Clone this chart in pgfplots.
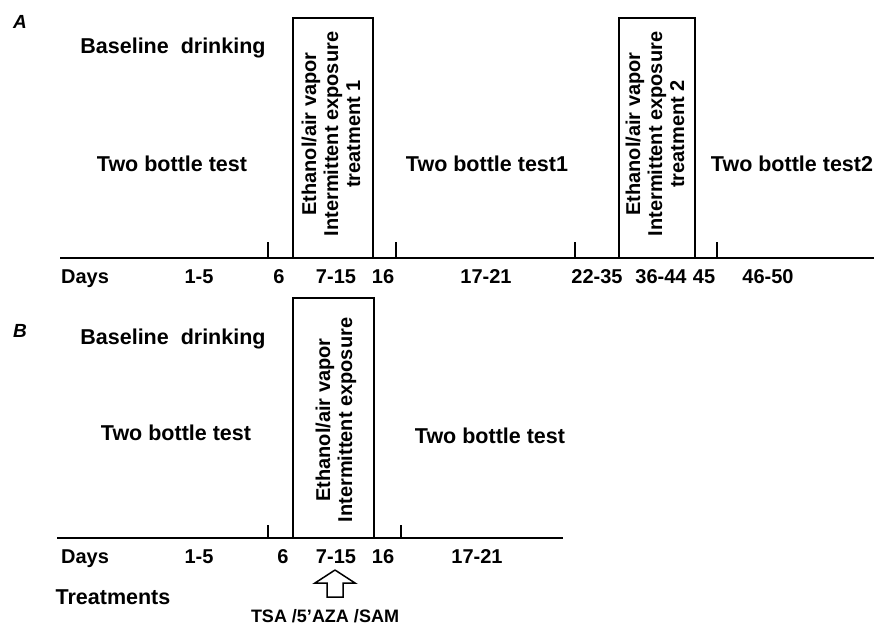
\documentclass[border=0pt]{standalone}
\usepackage{pgfplots}
\pgfplotsset{compat=1.18}
\usepackage{fontspec}
\setmainfont{Liberation Sans}
\newcommand{\fbig}{\fontsize{21.5}{23}\selectfont\bfseries}
\newcommand{\frot}{\fontsize{20}{22}\selectfont\bfseries}
\newcommand{\fmid}{\fontsize{20}{22}\selectfont\bfseries}
\begin{document}
\begin{tikzpicture}
\begin{axis}[
  width=874pt, height=625pt, scale only axis,
  xmin=0, xmax=874, ymin=0, ymax=625, y dir=reverse,
  axis lines=none, clip=false,
]
% ---- Panel A ----
\addplot[black, line width=2pt] coordinates {(60,258) (874,258)};
\addplot[black, line width=1.3pt] coordinates {(268,242) (268,258)};
\addplot[black, line width=1.3pt] coordinates {(396,242) (396,258)};
\addplot[black, line width=1.3pt] coordinates {(575,242) (575,258)};
\addplot[black, line width=1.3pt] coordinates {(717,242) (717,258)};
\addplot[black, line width=2pt] coordinates {(293,258) (293,18) (373,18) (373,258)};
\addplot[black, line width=2pt] coordinates {(619,258) (619,18) (695,18) (695,258)};
% ---- Panel B ----
\addplot[black, line width=2pt] coordinates {(57,538) (563,538)};
\addplot[black, line width=1.3pt] coordinates {(268,525) (268,538)};
\addplot[black, line width=1.3pt] coordinates {(401,525) (401,538)};
\addplot[black, line width=2pt] coordinates {(293,538) (293,298) (374,298) (374,538)};
\addplot[black, line width=1.5pt] coordinates {(335,570) (355,583) (343,583) (343,597) (327,597) (327,583) (315,583) (335,570)};

% texts A
\node[anchor=base, font=\fontsize{19}{21}\selectfont\bfseries\itshape] at (axis cs:20,28) {A};
\node[anchor=base, font=\fbig] at (axis cs:173,53) {Baseline\ \ drinking};
\node[anchor=base, font=\fbig] at (axis cs:172,171) {Two bottle test};
\node[anchor=base, font=\fbig] at (axis cs:487,171) {Two bottle test1};
\node[anchor=base, font=\fbig] at (axis cs:792,171) {Two bottle test2};
\node[font=\frot, rotate=90, align=center, inner sep=0pt] at (axis cs:331,134) {Ethanol/air vapor\\Intermittent exposure\\treatment 1};
\node[font=\frot, rotate=90, align=center, inner sep=0pt] at (axis cs:655,134) {Ethanol/air vapor\\Intermittent exposure\\treatment 2};
\node[anchor=base, font=\fmid] at (axis cs:85,283) {Days};
\node[anchor=base, font=\fmid] at (axis cs:199,283) {1-5};
\node[anchor=base, font=\fmid] at (axis cs:279,283) {6};
\node[anchor=base, font=\fmid] at (axis cs:336,283) {7-15};
\node[anchor=base, font=\fmid] at (axis cs:383,283) {16};
\node[anchor=base, font=\fmid] at (axis cs:486,283) {17-21};
\node[anchor=base, font=\fmid] at (axis cs:597,283) {22-35};
\node[anchor=base, font=\fmid] at (axis cs:661,283) {36-44};
\node[anchor=base, font=\fmid] at (axis cs:704,283) {45};
\node[anchor=base, font=\fmid] at (axis cs:768,283) {46-50};
% texts B
\node[anchor=base, font=\fontsize{19}{21}\selectfont\bfseries\itshape] at (axis cs:20,337) {B};
\node[anchor=base, font=\fbig] at (axis cs:173,344) {Baseline\ \ drinking};
\node[anchor=base, font=\fbig] at (axis cs:176,440) {Two bottle test};
\node[anchor=base, font=\fbig] at (axis cs:490,443) {Two bottle test};
\node[font=\frot, rotate=90, align=center, inner sep=0pt] at (axis cs:336,420) {Ethanol/air vapor\\Intermittent exposure};
\node[anchor=base, font=\fmid] at (axis cs:85,563) {Days};
\node[anchor=base, font=\fmid] at (axis cs:199,563) {1-5};
\node[anchor=base, font=\fmid] at (axis cs:283,563) {6};
\node[anchor=base, font=\fmid] at (axis cs:336,563) {7-15};
\node[anchor=base, font=\fmid] at (axis cs:383,563) {16};
\node[anchor=base, font=\fmid] at (axis cs:477,563) {17-21};
\node[anchor=base, font=\fbig] at (axis cs:113,604) {Treatments};
\node[anchor=base, font=\fontsize{18}{20}\selectfont\bfseries] at (axis cs:325,622) {TSA /5’AZA /SAM};
\end{axis}
\pgfresetboundingbox
\path (current axis.south west) rectangle (current axis.north east);
\end{tikzpicture}
\end{document}
